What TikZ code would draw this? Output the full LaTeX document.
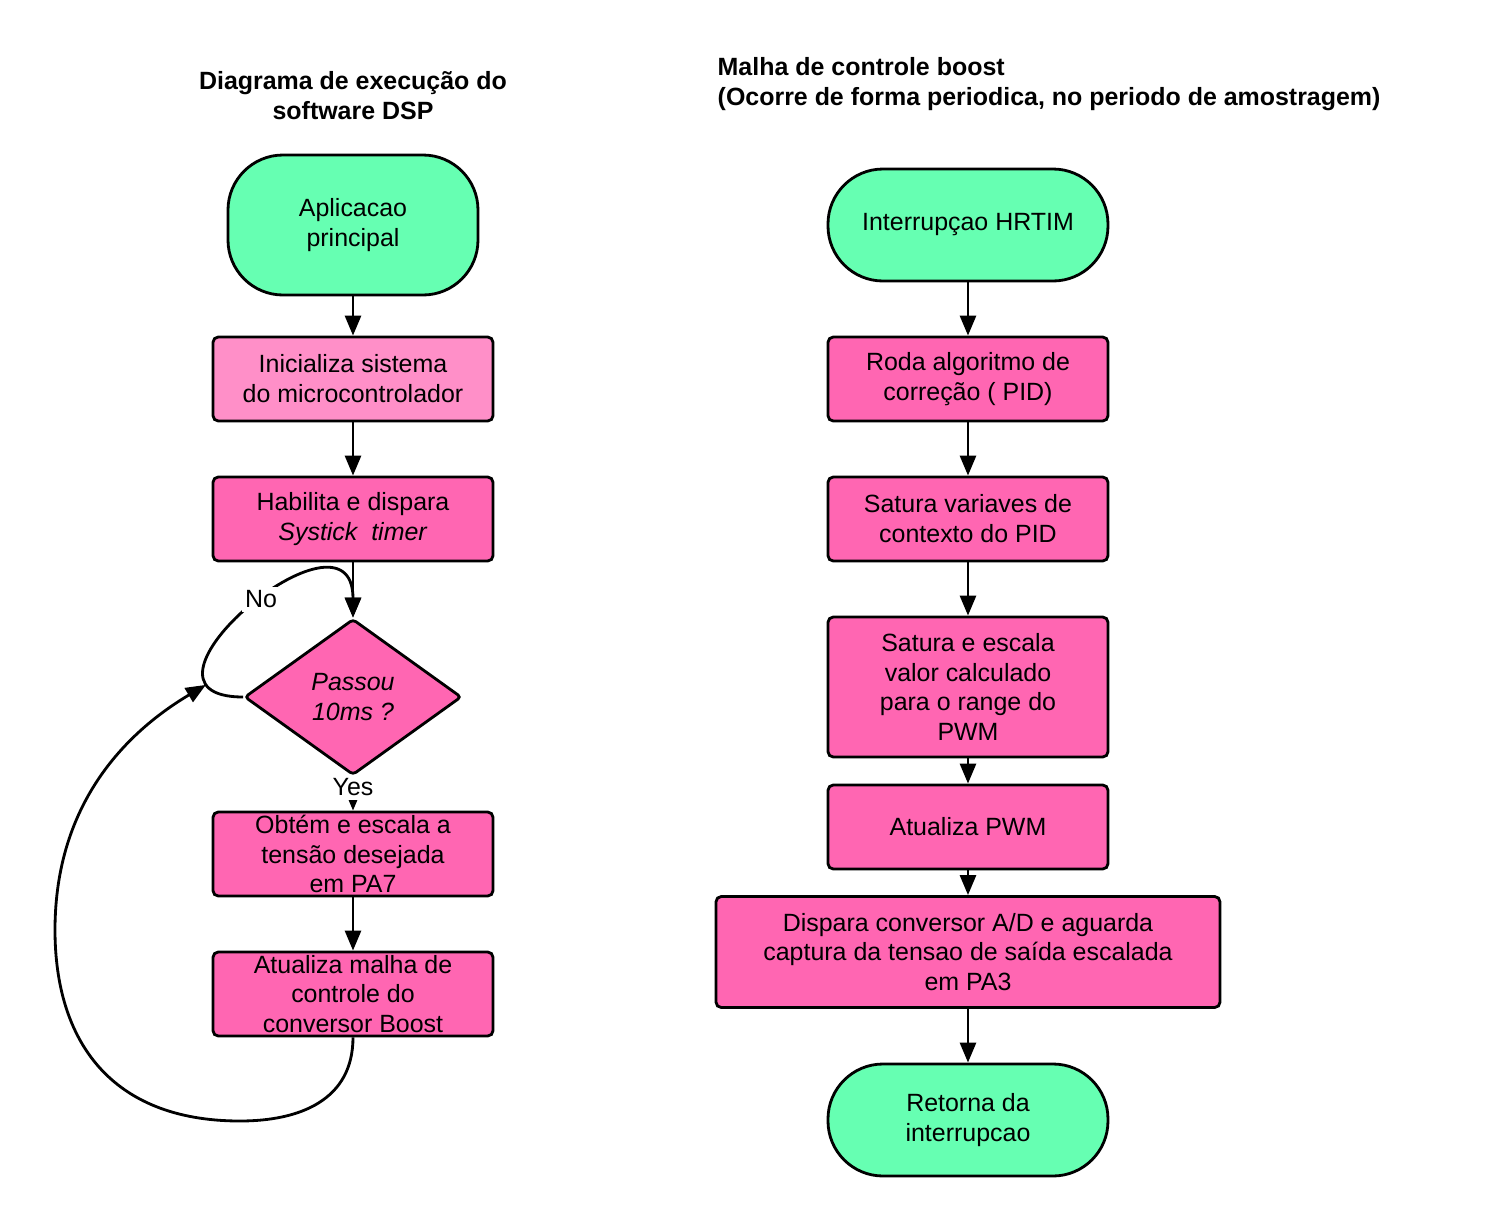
\documentclass[tikz,border=0pt]{standalone}
\usepackage{fontspec}
\setmainfont{Liberation Sans}
\usetikzlibrary{arrows.meta,positioning,shapes.geometric}
\definecolor{termgreen}{RGB}{102,255,178}
\definecolor{stepink}{RGB}{255,102,178}
\definecolor{lightpink}{RGB}{255,143,200}

\begin{document}
\begin{tikzpicture}[
  node distance=1.4cm, on grid,
  txt/.style={font=\fontsize{7.1}{8.5}\selectfont, align=center},
  ttl/.style={font=\fontsize{7.1}{8.5}\selectfont\bfseries},
  term/.style={txt, rectangle, rounded corners=0.55cm, draw=black, line width=0.8pt, fill=termgreen},
  proc/.style={txt, rectangle, rounded corners=1.5pt, draw=black, line width=0.8pt, fill=stepink, minimum width=2.8cm, minimum height=0.84cm, inner sep=0pt},
  decide/.style={txt, diamond, draw=black, line width=0.8pt, fill=stepink, minimum width=2.17cm, minimum height=1.56cm, inner sep=0pt, rounded corners=1pt},
  flow/.style={-{Triangle[length=2mm,width=1.6mm]}, line width=0.8pt}
]
\useasboundingbox (0,0) rectangle (15,-12.32);

% left: main program
\node[ttl, align=center] (ttlL) at (3.53,-0.96) {Diagrama de execução do\\software DSP};
\node[term, minimum width=2.5cm, minimum height=1.4cm] (main) at (3.53,-2.25) {Aplicacao\\principal};
\node[proc, fill=lightpink, below=1.54 of main] (init) {Inicializa sistema\\do microcontrolador};
\node[proc, below=1.4 of init] (systick) {Habilita e dispara\\\textit{Systick\ \ timer}};
\node[decide, below=1.78 of systick] (passou) {\textit{Passou}\\\textit{10ms ?}};
\node[proc, below=1.57 of passou] (tensao) {Obtém e escala a\\tensão desejada\\em PA7};
\node[proc, below=1.4 of tensao] (malha) {Atualiza malha de\\controle do\\conversor Boost};

% right: interrupt routine
\node[ttl, align=left, anchor=west, inner xsep=0pt] (ttlR) at (7.17,-0.84) {Malha de controle boost\\(Ocorre de forma periodica, no periodo de amostragem)};
\node[term, minimum width=2.8cm, minimum height=1.12cm] (hrtim) at (9.68,-2.25) {Interrupçao HRTIM};
\node[proc, below=1.54 of hrtim] (pid) {Roda algoritmo de\\correção ( PID)};
\node[proc, below=1.4 of pid] (satctx) {Satura variaves de\\contexto do PID};
\node[proc, minimum height=1.4cm, below=1.68 of satctx] (escala) {Satura e escala\\valor calculado\\para o range do\\PWM};
\node[proc, below=1.4 of escala] (pwm) {Atualiza PWM};
\node[proc, minimum width=5.04cm, minimum height=1.11cm, below=1.25 of pwm] (adc) {Dispara conversor A/D e aguarda\\captura da tensao de saída escalada\\em PA3};
\node[term, minimum width=2.8cm, minimum height=1.12cm, below=1.68 of adc] (ret) {Retorna da\\interrupcao};

\draw[flow] (main) -- (init);
\draw[flow] (init) -- (systick);
\draw[flow] (systick) -- (passou);
\draw[flow] (passou) -- (tensao) node[pos=0.32, fill=white, inner sep=1pt, txt] (yes) {Yes};
\draw[flow] (tensao) -- (malha);
\draw[flow] (passou.west) .. controls +(-1.35,0) and +(0,1.27) .. (passou.north)
  node[pos=0.55, fill=white, inner sep=1pt, txt] (no) {No}
  coordinate[pos=0.15] (join);
% back to the test
\draw[flow] (malha.south) .. controls (3.53,-11.0) and (3.0,-11.21) .. (2.4,-11.21)
  .. controls (1.1,-11.21) and (0.55,-10.4) .. (0.55,-9.3)
  .. controls (0.55,-8.0) and (1.3,-7.3) .. (join);

\draw[flow] (hrtim) -- (pid);
\draw[flow] (pid) -- (satctx);
\draw[flow] (satctx) -- (escala);
\draw[flow] (escala) -- (pwm);
\draw[flow] (pwm) -- (adc);
\draw[flow] (adc) -- (ret);
\end{tikzpicture}
\end{document}
